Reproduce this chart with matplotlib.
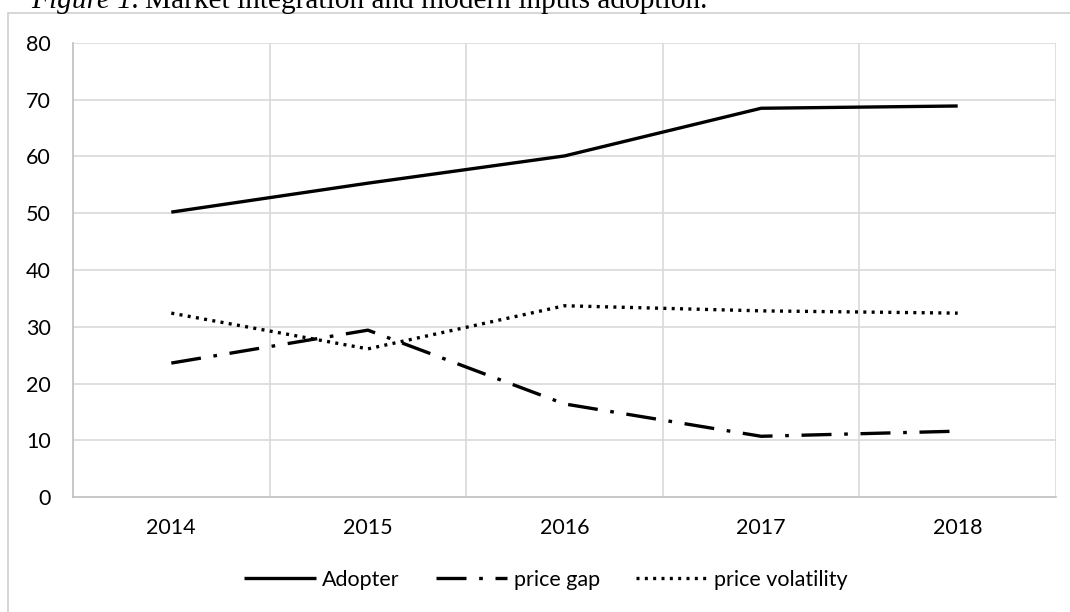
import matplotlib
matplotlib.use("Agg")
import matplotlib.pyplot as plt
from matplotlib.patches import Rectangle

years = ["2014", "2015", "2016", "2017", "2018"]
adopter = [50.2, 55.3, 60.1, 68.5, 68.9]
price_gap = [23.6, 29.4, 16.4, 10.7, 11.6]
price_volatility = [32.4, 26.1, 33.7, 32.8, 32.4]
yticks = [0, 10, 20, 30, 40, 50, 60, 70, 80]

W, H = 1070, 612
fig = plt.figure(figsize=(W / 100, H / 100), dpi=100)
ax = fig.add_axes([73 / W, 1 - 497 / H, (1056 - 73) / W, (497 - 43) / H])

font = "Lato"
fs = 15.5
grid_c = "#d9d9d9"
x = list(range(len(years)))

ax.plot(x, adopter, color="black", lw=2.4, solid_capstyle="butt", label="Adopter")
gap_line, = ax.plot(x, price_gap, color="black", lw=2.4, label="price gap")
gap_line.set_dashes([9, 3.8, 1.1, 3.8])
vol_line, = ax.plot(x, price_volatility, color="black", lw=2.4, label="price volatility")
vol_line.set_dashes([0.9, 1.6])

ax.set_xlim(-0.5, len(years) - 0.5)
ax.set_ylim(0, 80)
ax.set_yticks(yticks)
ax.set_xticks(x)
ax.set_xticklabels(years)
ax.tick_params(length=0, labelsize=fs)
ax.tick_params(axis="x", pad=15)
ax.tick_params(axis="y", pad=16)
for lab in ax.get_xticklabels() + ax.get_yticklabels():
    lab.set_fontfamily(font)

for yv in yticks[1:]:
    ax.axhline(yv, color=grid_c, lw=1.2, zorder=0)
for xv in [i + 0.5 for i in x]:
    ax.axvline(xv, color=grid_c, lw=1.2, zorder=0)

for s in ["top", "right"]:
    ax.spines[s].set_visible(False)
ax.spines["left"].set_color("#bfbfbf")
ax.spines["bottom"].set_color("#bfbfbf")
ax.spines["left"].set_linewidth(1.2)
ax.spines["bottom"].set_linewidth(1.2)

leg = fig.legend(loc="center", bbox_to_anchor=(546 / W, 1 - 580 / H), ncol=3,
                 frameon=False, handlelength=3.3, columnspacing=1.7,
                 handletextpad=0.3, prop={"family": font, "size": fs})

# outer chart border
fig.patches.append(Rectangle((8 / W, -0.1), 1.2, 1 - 13 / H + 0.1,
                             transform=fig.transFigure, fill=False,
                             edgecolor="#d0d0d0", lw=1.2))

# caption, cut off at the top as in the reference
t1 = fig.text(31 / W, 1 - 8 / H, "Figure 1.", family="Liberation Serif",
              style="italic", fontsize=21.2, va="baseline", ha="left")
fig.canvas.draw()
bb = t1.get_window_extent()
fig.text((bb.x1 + 6) / W, 1 - 8 / H, "Market integration and modern inputs adoption.",
         family="Liberation Serif", fontsize=21.2, va="baseline", ha="left")

fig.savefig("out.png", dpi=100)
